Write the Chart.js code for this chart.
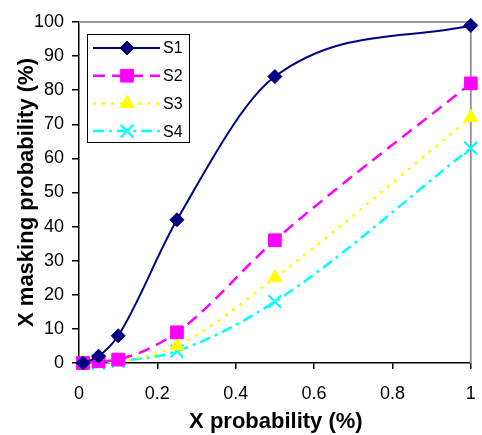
<!DOCTYPE html>
<html><head><meta charset="utf-8">
<script src="https://cdn.jsdelivr.net/npm/chart.js@4/dist/chart.umd.min.js"></script>
<style>html,body{margin:0;padding:0;background:#fff}#wrap{width:482px;height:435px}</style>
</head><body><div id="wrap"><canvas id="c" width="482" height="435"></canvas></div>
<script>
const xValues = [0.01, 0.05, 0.1, 0.25, 0.5, 1];
const s1 = [0, 2, 8, 42, 84, 99];
const s2 = [0, 0.5, 1, 9, 36, 82];
const s3 = [0, 0, 0.5, 5, 25, 72];
const s4 = [0, 0, 0.5, 3.5, 18, 63];
const seriesNames = ['S1', 'S2', 'S3', 'S4'];
const xTicks = [0, 0.2, 0.4, 0.6, 0.8, 1];
const xTitle = 'X probability (%)';
const yTitle = 'X masking probability (%)';

const FONT = '"Liberation Sans", Arial, sans-serif';
const styles = [
  {color:'#000080', dash:[], width:2, pt:'rectRot', r:7, bw:1},
  {color:'#ff00ff', dash:[12,7], width:2.5, pt:'rect', r:9, bw:1},
  {color:'#ffff00', dash:[3,6], width:2.5, pt:'triangle', r:8, bw:1},
  {color:'#00ffff', dash:[11,5,3,5], width:2.5, pt:'crossRot', r:9, bw:2.2}
];
const allSeries = [s1, s2, s3, s4];
const datasets = allSeries.map((s, i) => ({
  label: seriesNames[i],
  data: xValues.map((x, j) => ({x: x, y: s[j]})),
  borderColor: styles[i].color,
  backgroundColor: styles[i].color,
  borderWidth: styles[i].width,
  borderDash: styles[i].dash,
  pointStyle: styles[i].pt,
  pointRadius: styles[i].r,
  pointBorderWidth: styles[i].bw,
  tension: 0.4,
  cubicInterpolationMode: 'monotone',
  fill: false,
  clip: false
}));

const framePlugin = {
  id: 'frame',
  beforeDatasetsDraw(chart) {
    const a = chart.chartArea, ctx = chart.ctx;
    ctx.save();
    ctx.strokeStyle = '#999999'; ctx.lineWidth = 2;
    ctx.beginPath();
    ctx.moveTo(a.left, a.top); ctx.lineTo(a.right, a.top); ctx.lineTo(a.right, a.bottom);
    ctx.stroke();
    ctx.restore();
  },
  afterDraw(chart) {
    const ctx = chart.ctx, a = chart.chartArea;
    ctx.save();
    // axis titles
    ctx.fillStyle = '#000';
    ctx.font = 'bold 22px ' + FONT;
    ctx.textAlign = 'center';
    ctx.textBaseline = 'alphabetic';
    ctx.fillText(xTitle, (a.left + a.right) / 2 + 1, 428);
    ctx.save();
    ctx.translate(33, (a.top + a.bottom) / 2);
    ctx.rotate(-Math.PI / 2);
    ctx.fillText(yTitle, 0, 0);
    ctx.restore();
    // legend
    const bx = 87, by = 34, bw = 102, bh = 108;
    ctx.fillStyle = '#fff';
    ctx.fillRect(bx, by, bw, bh);
    ctx.strokeStyle = '#000'; ctx.lineWidth = 1;
    ctx.strokeRect(bx + 0.5, by + 0.5, bw, bh);
    chart.data.datasets.forEach((ds, i) => {
      const y = 48 + i * 27.7;
      ctx.strokeStyle = ds.borderColor;
      ctx.lineWidth = ds.borderWidth;
      ctx.setLineDash(ds.borderDash);
      ctx.beginPath(); ctx.moveTo(93, y); ctx.lineTo(160, y); ctx.stroke();
      ctx.setLineDash([]);
      ctx.fillStyle = ds.borderColor;
      ctx.strokeStyle = ds.borderColor;
      ctx.lineWidth = ds.pointBorderWidth;
      Chart.helpers.drawPoint(ctx, {pointStyle: ds.pointStyle, radius: ds.pointRadius, borderWidth: ds.pointBorderWidth, rotation: 0}, 127, y);
      ctx.fillStyle = '#000';
      ctx.font = '16px ' + FONT;
      ctx.textAlign = 'left';
      ctx.textBaseline = 'middle';
      ctx.fillText(ds.label, 163, y + 1);
    });
    ctx.restore();
  }
};

new Chart(document.getElementById('c'), {
  type: 'line',
  data: {datasets},
  options: {
    responsive: false,
    animation: false,
    layout: {padding: {top: 22, right: 10, left: 0, bottom: 0}},
    plugins: {legend: {display: false}, tooltip: {enabled: false}},
    scales: {
      x: {
        type: 'linear', min: 0, max: 1,
        afterBuildTicks(s) { s.ticks = xTicks.map(v => ({value: v})); },
        afterFit(s) { s.height = 72; s.paddingRight = 0; s.paddingLeft = 0; },
        grid: {display: true, drawOnChartArea: false, drawTicks: true, tickLength: 6, color: '#000', lineWidth: 1.5},
        border: {color: '#000', width: 1.5},
        ticks: {color: '#000', font: {family: FONT, size: 18}, padding: 14,
          callback: v => String(v)}
      },
      y: {
        min: 0, max: 100,
        afterFit(s) { s.width = 79; s.paddingTop = 0; s.paddingBottom = 0; },
        grid: {display: true, drawOnChartArea: false, drawTicks: true, tickLength: 7, color: '#000', lineWidth: 1.5},
        border: {color: '#000', width: 1.5},
        ticks: {stepSize: 10, color: '#000', font: {family: FONT, size: 18}, padding: 8}
      }
    }
  },
  plugins: [framePlugin]
});
</script></body></html>
